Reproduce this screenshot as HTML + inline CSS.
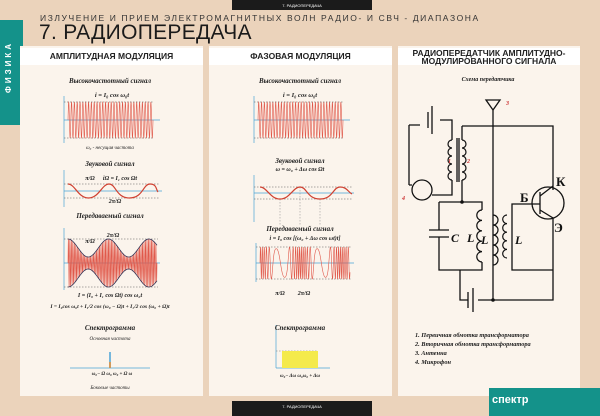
<!DOCTYPE html>
<html><head><meta charset="utf-8"><style>
body{margin:0;width:600px;height:416px;overflow:hidden;background:#ebd3bb;font-family:"Liberation Sans",sans-serif;position:relative}
.abs{position:absolute}
.panel{position:absolute;top:46px;height:350px;background:#fbf4ec}
.hdr{position:absolute;left:0;right:0;top:2px;height:17px;background:#fff;font-weight:bold;font-size:8.5px;text-align:center;line-height:17px;color:#222}
svg{position:absolute;left:0;top:0}
</style></head><body>
<div class="abs" style="left:232px;top:0;width:140px;height:10px;background:#1b1b1b;color:#fff;font-size:4px;text-align:center;line-height:11px">7. РАДИОПЕРЕДАЧА</div>
<div class="abs" style="left:0;top:20px;width:23px;height:105px;background:#14928a"></div>
<div class="abs" style="left:-34px;top:60px;width:90px;height:14px;transform:rotate(-90deg);color:#fff;font-weight:bold;font-size:8px;letter-spacing:3px;text-align:center">ФИЗИКА</div>
<div class="abs" style="left:40px;top:13px;font-size:8.5px;letter-spacing:1.6px;color:#333">ИЗЛУЧЕНИЕ И ПРИЕМ ЭЛЕКТРОМАГНИТНЫХ ВОЛН РАДИО- И СВЧ - ДИАПАЗОНА</div>
<div class="abs" style="left:39px;top:21px;font-size:21px;color:#1a1a1a;letter-spacing:0.3px">7. РАДИОПЕРЕДАЧА</div>
<div class="panel" style="left:20px;width:183px"><div class="hdr">АМПЛИТУДНАЯ МОДУЛЯЦИЯ</div></div>
<div class="panel" style="left:209px;width:183px"><div class="hdr">ФАЗОВАЯ МОДУЛЯЦИЯ</div></div>
<div class="panel" style="left:398px;width:182px"><div class="hdr" style="line-height:8px;padding-top:1px;height:16px">РАДИОПЕРЕДАТЧИК АМПЛИТУДНО-<br>МОДУЛИРОВАННОГО СИГНАЛА</div></div>
<div class="abs" style="left:232px;top:401px;width:140px;height:15px;background:#1b1b1b;color:#fff;font-size:4px;text-align:center;line-height:12px">7. РАДИОПЕРЕДАЧА</div>
<div class="abs" style="left:489px;top:388px;width:111px;height:28px;background:#14928a;color:#fff;font-weight:bold;font-size:11px;line-height:24px;padding-left:3px;box-sizing:border-box">спектр</div>
<svg width="600" height="416" font-family="Liberation Serif,serif" font-style="italic" font-weight="bold" font-size="7">
<g id="w" fill="none"></g>
<g fill="none" stroke="#d04030" stroke-width="1.2">
<path d="M68,184 C75,184 78,198 88.5,198 S102,184 109,184 S116,198 129.5,198 S143,184 150,184 S156,190 158,192"/>
<path d="M260,187 C267,187 270,199 280,199 S293,187 300,187 S307,199 320,199 S333,187 340,187 S348,192 352,194"/>
</g>
<g fill="#222" text-anchor="middle">
<text x="110" y="83">Высокочастотный сигнал</text>
<text x="112" y="97" font-size="6.5">i = I₀ cos ω₀t</text>
<text x="110" y="149" font-size="5" font-weight="normal">ω₀ - несущая частота</text>
<text x="110" y="166">Звуковой сигнал</text>
<text x="120" y="180" font-size="6">iΩ = I₁ cos Ωt</text>
<text x="90" y="180" font-size="6">π/Ω</text>
<text x="115" y="203" font-size="6">2π/Ω</text>
<text x="110" y="218">Передаваемый сигнал</text>
<text x="90" y="243" font-size="6">π/Ω</text>
<text x="113" y="237" font-size="6">2π/Ω</text>
<text x="110" y="297" font-size="6">I = (I₀ + I₁ cos Ωt) cos ω₀t</text>
<text x="110" y="308" font-size="5.5">I = I₀cos ω₀t + I₁/2 cos (ω₀ − Ω)t + I₁/2 cos (ω₀ + Ω)t</text>
<text x="110" y="330">Спектрограмма</text>
<text x="110" y="340" font-size="5" font-weight="normal">Основная частота</text>
<text x="112" y="375" font-size="5">ω₀− Ω  ω₀  ω₀ + Ω   ω</text>
<text x="110" y="389" font-size="5" font-weight="normal">Боковые частоты</text>
<text x="300" y="83">Высокочастотный сигнал</text>
<text x="300" y="97" font-size="6.5">i = I₀ cos ω₀t</text>
<text x="300" y="163">Звуковой сигнал</text>
<text x="300" y="171" font-size="6">ω = ω₀ + Δω cos Ωt</text>
<text x="300" y="231">Передаваемый сигнал</text>
<text x="305" y="240" font-size="6">i = I₀ cos [(ω₀ + Δω cos ωt)t]</text>
<text x="280" y="295" font-size="6">π/Ω</text>
<text x="304" y="295" font-size="6">2π/Ω</text>
<text x="300" y="330">Спектрограмма</text>
<text x="300" y="377" font-size="5">ω₀− Δω  ω₀ω₀ + Δω</text>
<text x="488" y="81" font-size="6">Схема передатчика</text>
</g>
<rect x="282" y="351" width="36" height="17" fill="#f4ea4c"/>
<g fill="#222" font-size="6.3">
<text x="415" y="337">1. Первичная обмотка трансформатора</text>
<text x="415" y="346">2. Вторичная обмотка трансформатора</text>
<text x="415" y="355">3. Антенна</text>
<text x="415" y="364">4. Микрофон</text>
</g>
<g stroke="#111" stroke-width="1.3" fill="none">
<path d="M486,100 L500,100 L493,110 Z"/>
<path d="M493,110 V300"/>
<path d="M462,126 H553 V190"/>
<path d="M540,196 L553,186 M540,210 L553,218 V300 H478 M468,300 H460 V270"/>
<circle cx="548" cy="203" r="16"/>
<path d="M540,192 V214 M532,204 H540"/>
<path d="M462,126 V140 M462,180 V202 M439,202 H482 V210 M482,262 V270 H439 V237 M439,230 V202"/>
<path d="M429,230 H449 M429,237 H449"/>
<path d="M532,204 H512 V270 H553"/>
<path d="M409,125 V185 M409,125 H420 M440,120 H452 V140 M452,180 V195 H432 M409,185 H412"/>
<circle cx="422" cy="190" r="10"/>
<path d="M457,138 V182 M459,138 V182"/>
<path d="M428,112 V128 M432,106 V134 M468,292 V308 M473,288 V312"/>
</g>
<g id="coils" stroke="#111" stroke-width="1.2" fill="none"></g>
<circle cx="462" cy="202" r="1.8" fill="#111"/><circle cx="493" cy="300" r="1.8" fill="#111"/>
<g fill="#111" font-size="13" font-style="normal"><text x="556" y="186">К</text><text x="520" y="202">Б</text><text x="554" y="232">Э</text></g>
<g fill="#111" font-size="12"><text x="451" y="242">C</text><text x="467" y="242">L</text><text x="481" y="244">L</text><text x="515" y="244">L</text></g>
<g fill="#c33" font-size="6"><text x="506" y="105">3</text><text x="448" y="163">1</text><text x="467" y="163">2</text><text x="402" y="200">4</text></g>
</svg>
<script>
var g=document.getElementById('w'),s='';
function P(d,c,w,da){s+='<path d="'+d+'" stroke="'+c+'" stroke-width="'+(w||0.6)+'"'+(da?' stroke-dasharray="1.5,1.5"':'')+'/>';}
function axis(x0,x1,y,yt,yb){P('M'+x0+','+y+'H'+x1,'#4aa3d6',0.7);P('M'+x0+','+yt+'V'+yb,'#4aa3d6',0.7);}
function carrier(x0,x1,yc,A,n,env){var d='';for(var i=0;i<=800;i++){var t=i/800,x=x0+(x1-x0)*t;var a=env?env(t):A;d+=(i?'L':'M')+x.toFixed(2)+','+(yc-a*Math.sin(t*n*2*Math.PI)).toFixed(2);}P(d,'#e0584a',0.6);}
axis(64,160,120,96,143);carrier(68,153,120,18,30);P('M64,102H154M64,138H154','#555',0.5,1);
axis(254,350,120,96,143);carrier(258,343,120,18,30);P('M254,102H344M254,138H344','#555',0.5,1);
axis(64,162,191,170,207);P('M64,184H160M64,198H160','#555',0.5,1);
axis(254,354,193,175,222);P('M254,187H352M254,199H352','#555',0.5,1);P('M280,199V226M300,187V226M320,199V226','#888',0.5,1);
axis(64,160,263,228,290);P('M64,239H158M64,287H158','#555',0.5,1);
var env=function(t){return 15+9*Math.cos(t*2.2*2*Math.PI);};carrier(68,157,263,0,60,env);
var d='',d2='';for(var i=0;i<=200;i++){var x=68+89*i/200;var e=env(i/200);d+=(i?'L':'M')+x.toFixed(2)+','+(263-e).toFixed(2);d2+=(i?'L':'M')+x.toFixed(2)+','+(263+e).toFixed(2);}P(d,'#335',0.8);P(d2,'#335',0.8);
axis(256,354,263,243,282);P('M256,247H352M256,279H352','#555',0.5,1);
d='';for(i=0;i<=800;i++){var t=i/800;x=260+90*t;d+=(i?'L':'M')+x.toFixed(2)+','+(263-16*Math.sin(2*Math.PI*(22*t+2*Math.sin(2.2*2*Math.PI*t)))).toFixed(2);}P(d,'#e0584a',0.6);
P('M276,368H330','#4aa3d6',0.7);P('M276,325V368','#4aa3d6',0.7);P('M276,351H318M300,351V368','#777',0.5,1);
P('M70,368H150','#4aa3d6',0.7);P('M110,352V368','#4aa3d6',1.5);P('M110,362V368','#e08a30',1.5);
g.innerHTML=s;
var c='';function coil(x,y0,y1,dir){var n=5,h=(y1-y0)/n,p='M'+x+','+y0;for(var k=0;k<n;k++){p+=' a'+(h/2)+','+(h/2)+' 0 0 '+(dir>0?1:0)+' 0,'+h;}c+='<path d="'+p+'"/>';}
coil(452,140,180,-1);coil(462,140,180,1);coil(482,210,262,-1);coil(493,215,265,1);coil(507,215,258,-1);
document.getElementById('coils').innerHTML=c;
</script>
</body></html>
